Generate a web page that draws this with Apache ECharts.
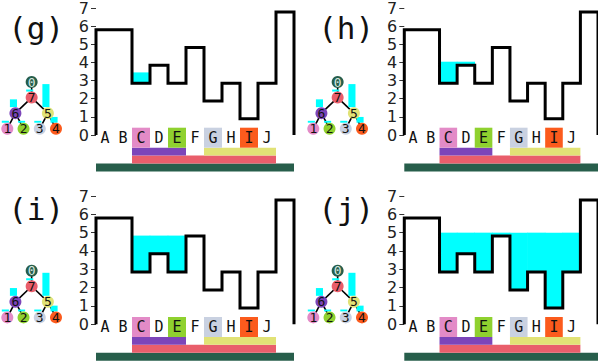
<!DOCTYPE html>
<html><head><meta charset="utf-8">
<script src="https://cdn.jsdelivr.net/npm/echarts@6/dist/echarts.min.js"></script>
<style>html,body{margin:0;padding:0;background:#fff}#c{width:598px;height:362px}</style>
</head><body><div id="c"></div>
<script>
// ---------------- data ----------------
const panelNames = ['(g)', '(h)', '(i)', '(j)'];
const columnLabels = ['A','B','C','D','E','F','G','H','I','J',''];
const columnHeights = [5.8, 5.8, 2.85, 3.85, 2.85, 4.82, 1.87, 2.85, 0.89, 2.85, 6.78];
const waterLevels = [3.45, 4.04, 4.84, 5.0];
const waterFirstCol = [2, 2, 2, 2];
const waterLastCol = [2, 3, 4, 9];
const yTickValues = [0, 1, 2, 3, 4, 5, 6, 7];

const treeNodes = ['0', '7', '6', '5', '1', '2', '3', '4'];
const treeParents = [null, '0', '7', '7', '6', '6', '5', '5'];
const treeColors = ['#275e4b', '#e95e6b', '#7c45b9', '#e1e276', '#e38bc7', '#8fd12f', '#c9d1e1', '#fb5b1d'];
const nodeSpanFirst = [0, 2, 2, 6, 2, 4, 6, 8];
const nodeSpanLast = [10, 9, 4, 9, 2, 4, 6, 8];
const nodeCyanBars = [0, 0.13, 0.5, 1.48, 0.12, 0.12, 0.12, 0.37];

// ---------------- tree layout (computed from structure) ----------------
const children = {};
treeNodes.forEach(n => children[n] = []);
treeNodes.forEach((n, i) => { if (treeParents[i] !== null) children[treeParents[i]].push(n); });
function depthOf(n) { const i = treeNodes.indexOf(n); return treeParents[i] === null ? 0 : 1 + depthOf(treeParents[i]); }
const rootNode = treeNodes[treeParents.indexOf(null)];
let leafCounter = 0; const nodeX = {};
function layout(n) {
  if (children[n].length === 0) { nodeX[n] = leafCounter++; }
  else { children[n].forEach(layout); nodeX[n] = children[n].reduce((s, c) => s + nodeX[c], 0) / children[n].length; }
}
layout(rootNode);
const depths = treeNodes.map(depthOf);
const maxDepth = Math.max(...depths);
const nodeY = treeNodes.map((n, i) => maxDepth - depths[i]);

// ---------------- layout ----------------
const mainOffsets = [[0, 0], [308.3, 0], [0, 189.3], [308.3, 189.3]];
const treeOffsets = [[0, 0], [306, 0], [0, 188.7], [306, 188.7]];
const titleOffsets = [[0, 0], [310, 0], [0, 181], [310, 181]];
const rowEdges = [-7.3, 12.7, 20.5, 28.5, 36.5];
const mono = '"DejaVu Sans Mono", monospace';

const grids = [], xAxes = [], yAxes = [], series = [], graphics = [];

panelNames.forEach((name, p) => {
  const [mx, my] = mainOffsets[p];
  const [tx, ty] = treeOffsets[p];
  const [gx, gy] = titleOffsets[p];
  const gi = grids.length;
  grids.push({ left: 96 + mx, top: 6.7 + my, width: 198, height: 128.3 });
  grids.push({ left: 7.3 + tx, top: 82 + ty, width: 48.7, height: 46.7 });
  xAxes.push({ gridIndex: gi, type: 'value', min: 0, max: 11, show: false });
  yAxes.push({ gridIndex: gi, type: 'value', min: 0, max: 7, interval: 1,
    axisLine: { show: false }, splitLine: { show: false },
    axisTick: { show: true, length: 5, lineStyle: { color: '#333', width: 1 } },
    axisLabel: { margin: 7, fontSize: 16, color: '#222', fontFamily: '"DejaVu Sans", sans-serif',
      formatter: v => yTickValues.includes(v) ? String(v) : '' } });
  xAxes.push({ gridIndex: gi + 1, type: 'value', min: 0, max: 3, show: false });
  yAxes.push({ gridIndex: gi + 1, type: 'value', min: 0, max: 3, show: false });

  graphics.push({ type: 'text', x: 36.2 + gx, y: 28 + gy,
    style: { text: name, fontSize: 31, fontFamily: mono, fill: '#111', textAlign: 'center', textVerticalAlign: 'middle', align: 'center', verticalAlign: 'middle' } });

  // water
  const waterData = [];
  for (let c = waterFirstCol[p]; c <= waterLastCol[p]; c++) waterData.push([c, columnHeights[c], waterLevels[p]]);
  series.push({ type: 'custom', xAxisIndex: gi, yAxisIndex: gi, z: 1, silent: true, data: waterData,
    renderItem: (params, api) => {
      const c = api.value(0), h = api.value(1), lv = api.value(2);
      if (lv <= h) return null;
      const a = api.coord([c, lv]), b = api.coord([c + 1, h]);
      return { type: 'rect', shape: { x: a[0] - 0.3, y: a[1], width: b[0] - a[0] + 0.6, height: b[1] - a[1] }, style: { fill: '#00ffff' } };
    } });

  // step outline
  const stepData = [[0, 0]];
  columnHeights.forEach((h, i) => { stepData.push([i, h]); stepData.push([i + 1, h]); });
  stepData.push([columnHeights.length, 0]);
  series.push({ type: 'line', xAxisIndex: gi, yAxisIndex: gi, z: 5, data: stepData, symbol: 'none', clip: false, silent: true,
    lineStyle: { color: '#000', width: 3, join: 'miter' } });

  // coloured node boxes / bars under the columns
  series.push({ type: 'custom', xAxisIndex: gi, yAxisIndex: gi, z: 2, silent: true,
    data: treeNodes.map((n, i) => [nodeSpanFirst[i], nodeSpanLast[i] + 1, depths[i], i]),
    renderItem: (params, api) => {
      const a = api.coord([api.value(0), 0]), b = api.coord([api.value(1), 0]);
      const r = maxDepth - api.value(2);
      return { type: 'rect', shape: { x: a[0], y: a[1] + rowEdges[r], width: b[0] - a[0], height: rowEdges[r + 1] - rowEdges[r] },
        style: { fill: treeColors[api.value(3)] } };
    } });

  // column letters
  series.push({ type: 'custom', xAxisIndex: gi, yAxisIndex: gi, z: 6, silent: true,
    data: columnLabels.map((l, i) => [i + 0.5, 0, i]),
    renderItem: (params, api) => {
      const a = api.coord([api.value(0), api.value(1)]);
      const label = columnLabels[api.value(2)];
      if (!label) return null;
      return { type: 'text', x: a[0], y: a[1] + 3,
        style: { text: label, fontSize: 15, fontFamily: mono, fill: '#111', textAlign: 'center', textVerticalAlign: 'middle', align: 'center', verticalAlign: 'middle' } };
    } });

  // tree edges
  const edgeData = [];
  treeNodes.forEach((n, i) => {
    if (treeParents[i] === null) return;
    const pi = treeNodes.indexOf(treeParents[i]);
    edgeData.push([nodeX[n], nodeY[i], nodeX[treeParents[i]], nodeY[pi]]);
  });
  series.push({ type: 'custom', xAxisIndex: gi + 1, yAxisIndex: gi + 1, z: 2, silent: true, data: edgeData,
    renderItem: (params, api) => {
      const a = api.coord([api.value(0), api.value(1)]), b = api.coord([api.value(2), api.value(3)]);
      return { type: 'line', shape: { x1: a[0], y1: a[1], x2: b[0], y2: b[1] }, style: { stroke: '#000', lineWidth: 1.6 } };
    } });

  // tree cyan bars
  series.push({ type: 'custom', xAxisIndex: gi + 1, yAxisIndex: gi + 1, z: 3, silent: true,
    data: treeNodes.map((n, i) => [nodeX[n], nodeY[i], nodeCyanBars[i]]).filter(d => d[2] > 0),
    renderItem: (params, api) => {
      const c = api.coord([api.value(0), api.value(1)]);
      const hp = api.size([0, api.value(2)])[1];
      return { type: 'rect', shape: { x: c[0] - 5.5, y: c[1] - 6 - hp, width: 7.1, height: hp }, style: { fill: '#00ffff' } };
    } });

  // tree nodes
  series.push({ type: 'scatter', xAxisIndex: gi + 1, yAxisIndex: gi + 1, z: 4, silent: true, symbolSize: 12,
    data: treeNodes.map((n, i) => ({ value: [nodeX[n], nodeY[i]], name: n,
      itemStyle: { color: treeColors[i], opacity: 1 },
      label: { show: true, position: 'inside', formatter: n, fontSize: 13, fontFamily: mono,
        color: n === rootNode ? '#d8e8e0' : '#111' } })) });
});

const chart = echarts.init(document.getElementById('c'), null, { renderer: 'svg', width: 598, height: 362 });
chart.setOption({ animation: false, backgroundColor: '#fff', grid: grids, xAxis: xAxes, yAxis: yAxes, series: series, graphic: graphics });
</script></body></html>
